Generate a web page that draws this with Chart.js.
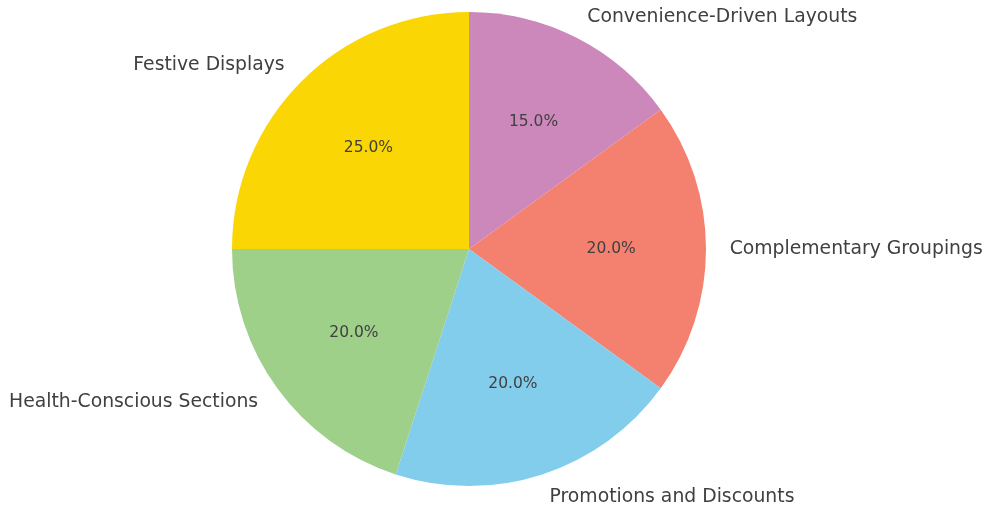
<!DOCTYPE html>
<html>
<head>
<meta charset="utf-8">
<style>
  html, body { margin: 0; padding: 0; background: #fff; }
  #wrap { width: 990px; height: 508px; }
</style>
</head>
<body>
<div id="wrap"><canvas id="pieChart" width="990" height="508"></canvas></div>
<script src="https://cdn.jsdelivr.net/npm/chart.js"></script>
<script>
// matplotlib draws counter-clockwise from the top; Chart.js goes clockwise,
// so the slices are listed here in the reverse order.
var categories = ['Convenience-Driven Layouts', 'Complementary Groupings', 'Promotions and Discounts', 'Health-Conscious Sections', 'Festive Displays'];
var shares = [15, 20, 20, 20, 25];
var sliceColors = ['#CC88BB', '#F48070', '#83CDEC', '#9ED08A', '#F9D604'];

var textColor = '#404040';

var pieLabels = {
    id: 'pieLabels',
    afterDatasetsDraw: function(chart) {
        var ctx = chart.ctx;
        var meta = chart.getDatasetMeta(0);
        var total = shares.reduce(function(a, b) { return a + b; }, 0);
        ctx.save();
        ctx.fillStyle = textColor;
        ctx.textBaseline = 'middle';
        meta.data.forEach(function(arc, i) {
            var p = arc.getProps(['x', 'y', 'startAngle', 'endAngle', 'outerRadius'], true);
            var mid = (p.startAngle + p.endAngle) / 2;
            var cx = Math.cos(mid), cy = Math.sin(mid);

            // percentage inside the slice
            ctx.font = '15.5px "DejaVu Sans"';
            ctx.textAlign = 'center';
            var pct = (shares[i] / total * 100).toFixed(1) + '%';
            ctx.fillText(pct, p.x + cx * p.outerRadius * 0.6, p.y + cy * p.outerRadius * 0.6);

            // category name outside
            ctx.font = '18.8px "DejaVu Sans"';
            ctx.textAlign = cx >= 0 ? 'left' : 'right';
            ctx.fillText(categories[i], p.x + cx * p.outerRadius * 1.1, p.y + cy * p.outerRadius * 1.1);
        });
        ctx.restore();
    }
};

var pieChart = new Chart(document.getElementById('pieChart').getContext('2d'), {
    type: 'pie',
    data: {
        labels: categories,
        datasets: [{
            data: shares,
            backgroundColor: sliceColors,
            borderWidth: 0,
            hoverOffset: 0,
            offset: 0
        }]
    },
    options: {
        responsive: false,
        animation: false,
        events: [],
        layout: { padding: { top: 12, bottom: 22, left: 232, right: 284 } },
        plugins: {
            legend: { display: false },
            tooltip: { enabled: false },
            title: { display: false }
        }
    },
    plugins: [pieLabels]
});
</script>
</body>
</html>
